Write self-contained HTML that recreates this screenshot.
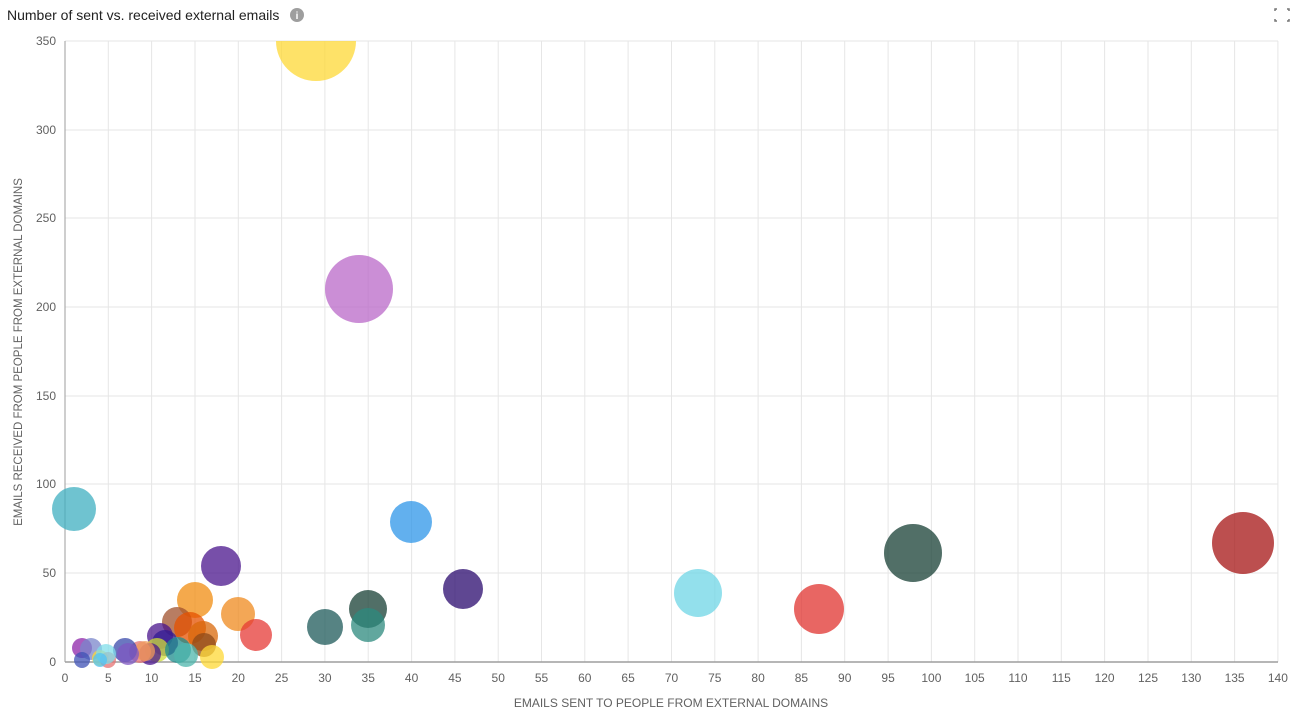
<!DOCTYPE html>
<html><head><style>
body{margin:0;background:#fff;font-family:"Liberation Sans",sans-serif;}
</style></head><body>
<svg width="1305" height="719" xmlns="http://www.w3.org/2000/svg" font-family="Liberation Sans, sans-serif">
<text x="7" y="20" font-size="14" fill="#212121">Number of sent vs. received external emails</text>
<circle cx="297" cy="15" r="7" fill="#9e9e9e"/><text x="297" y="19" font-size="10" fill="#fff" text-anchor="middle" font-weight="bold">i</text>
<g stroke="#757575" stroke-width="1.5" fill="none"><path d="M1277 9h-2v2M1287 9h2v2M1277 21h-2v-2M1287 21h2v-2"/></g>
<defs><clipPath id="c"><rect x="0" y="41" width="1305" height="678"/></clipPath></defs>
<g stroke="#e6e6e6">
<line x1="65" y1="41" x2="1278" y2="41"/><line x1="65" y1="130" x2="1278" y2="130"/><line x1="65" y1="218" x2="1278" y2="218"/><line x1="65" y1="307" x2="1278" y2="307"/><line x1="65" y1="396" x2="1278" y2="396"/><line x1="65" y1="484" x2="1278" y2="484"/><line x1="65" y1="573" x2="1278" y2="573"/>
<line x1="108.3" y1="41" x2="108.3" y2="662"/><line x1="151.6" y1="41" x2="151.6" y2="662"/><line x1="195" y1="41" x2="195" y2="662"/><line x1="238.3" y1="41" x2="238.3" y2="662"/><line x1="281.6" y1="41" x2="281.6" y2="662"/><line x1="324.9" y1="41" x2="324.9" y2="662"/><line x1="368.2" y1="41" x2="368.2" y2="662"/><line x1="411.6" y1="41" x2="411.6" y2="662"/><line x1="454.9" y1="41" x2="454.9" y2="662"/><line x1="498.2" y1="41" x2="498.2" y2="662"/><line x1="541.5" y1="41" x2="541.5" y2="662"/><line x1="584.8" y1="41" x2="584.8" y2="662"/><line x1="628.1" y1="41" x2="628.1" y2="662"/><line x1="671.5" y1="41" x2="671.5" y2="662"/><line x1="714.8" y1="41" x2="714.8" y2="662"/><line x1="758.1" y1="41" x2="758.1" y2="662"/><line x1="801.4" y1="41" x2="801.4" y2="662"/><line x1="844.7" y1="41" x2="844.7" y2="662"/><line x1="888.1" y1="41" x2="888.1" y2="662"/><line x1="931.4" y1="41" x2="931.4" y2="662"/><line x1="974.7" y1="41" x2="974.7" y2="662"/><line x1="1018" y1="41" x2="1018" y2="662"/><line x1="1061.3" y1="41" x2="1061.3" y2="662"/><line x1="1104.6" y1="41" x2="1104.6" y2="662"/><line x1="1148" y1="41" x2="1148" y2="662"/><line x1="1191.3" y1="41" x2="1191.3" y2="662"/><line x1="1234.6" y1="41" x2="1234.6" y2="662"/><line x1="1277.9" y1="41" x2="1277.9" y2="662"/>
</g>
<line x1="65" y1="41" x2="65" y2="662" stroke="#9e9e9e"/>
<line x1="65" y1="662" x2="1278" y2="662" stroke="#9e9e9e" stroke-width="1.5"/>
<g font-size="12" fill="#616161" text-anchor="end">
<text x="56" y="45">350</text><text x="56" y="134">300</text><text x="56" y="222">250</text><text x="56" y="311">200</text><text x="56" y="400">150</text><text x="56" y="488">100</text><text x="56" y="577">50</text><text x="56" y="666">0</text>
</g>
<g font-size="12" fill="#616161" text-anchor="middle">
<text x="65" y="682">0</text><text x="108.3" y="682">5</text><text x="151.6" y="682">10</text><text x="195" y="682">15</text><text x="238.3" y="682">20</text><text x="281.6" y="682">25</text><text x="324.9" y="682">30</text><text x="368.2" y="682">35</text><text x="411.6" y="682">40</text><text x="454.9" y="682">45</text><text x="498.2" y="682">50</text><text x="541.5" y="682">55</text><text x="584.8" y="682">60</text><text x="628.1" y="682">65</text><text x="671.5" y="682">70</text><text x="714.8" y="682">75</text><text x="758.1" y="682">80</text><text x="801.4" y="682">85</text><text x="844.7" y="682">90</text><text x="888.1" y="682">95</text><text x="931.4" y="682">100</text><text x="974.7" y="682">105</text><text x="1018" y="682">110</text><text x="1061.3" y="682">115</text><text x="1104.6" y="682">120</text><text x="1148" y="682">125</text><text x="1191.3" y="682">130</text><text x="1234.6" y="682">135</text><text x="1277.9" y="682">140</text>
<text x="671" y="707">EMAILS SENT TO PEOPLE FROM EXTERNAL DOMAINS</text>
<text transform="translate(22,352) rotate(-90)" font-size="11.5">EMAILS RECEIVED FROM PEOPLE FROM EXTERNAL DOMAINS</text>
</g>
<g clip-path="url(#c)" fill-opacity="0.75">
<circle cx="316" cy="41" r="40" fill="#fdd835"/>
<circle cx="359" cy="289" r="34" fill="#ba68c8"/>
<circle cx="74" cy="509" r="22" fill="#3fafc0"/>
<circle cx="411" cy="522" r="21" fill="#2d95e8"/>
<circle cx="221" cy="566" r="20" fill="#4a148c"/>
<circle cx="463" cy="589" r="20" fill="#2a0a6e"/>
<circle cx="698" cy="593" r="24" fill="#6fd6e5"/>
<circle cx="819" cy="609" r="25" fill="#e0332f"/>
<circle cx="913" cy="553" r="29" fill="#173f34"/>
<circle cx="1243" cy="543" r="31" fill="#a51414"/>
<circle cx="325" cy="627" r="18" fill="#1d5a59"/>
<circle cx="368" cy="609" r="19" fill="#173f34"/>
<circle cx="368" cy="625" r="17" fill="#2c8a7e"/>
<circle cx="195" cy="600" r="18" fill="#f08c10"/>
<circle cx="238" cy="614" r="17" fill="#ef8a1e"/>
<circle cx="256" cy="635" r="16" fill="#e53935"/>
<circle cx="177" cy="622" r="15" fill="#a0522d"/>
<circle cx="190" cy="628" r="16" fill="#e65100"/>
<circle cx="203" cy="636" r="15" fill="#d9680a"/>
<circle cx="204" cy="645" r="12" fill="#8d4a1a"/>
<circle cx="160" cy="636" r="13" fill="#4a148c"/>
<circle cx="165" cy="643" r="13" fill="#311b92"/>
<circle cx="157" cy="650" r="12" fill="#cddc39"/>
<circle cx="178" cy="650" r="13" fill="#1e8c8c"/>
<circle cx="186" cy="655" r="12" fill="#4db6ac"/>
<circle cx="212" cy="657" r="12" fill="#fdd835"/>
<circle cx="150" cy="654" r="11" fill="#4a148c"/>
<circle cx="140" cy="652" r="11" fill="#e57373"/>
<circle cx="145" cy="651" r="10" fill="#ef9a5a"/>
<circle cx="125" cy="650" r="12" fill="#3949ab"/>
<circle cx="128" cy="654" r="11" fill="#7e57c2"/>
<circle cx="82" cy="648" r="10" fill="#8e24aa"/>
<circle cx="91" cy="649" r="11" fill="#7986cb"/>
<circle cx="82" cy="660" r="8" fill="#3f51b5"/>
<circle cx="100" cy="658" r="8" fill="#fdd835"/>
<circle cx="108" cy="660" r="8" fill="#e57373"/>
<circle cx="106" cy="654" r="10" fill="#80deea"/>
<circle cx="100" cy="660" r="7" fill="#4fc3f7"/>
</g>
</svg>
</body></html>
